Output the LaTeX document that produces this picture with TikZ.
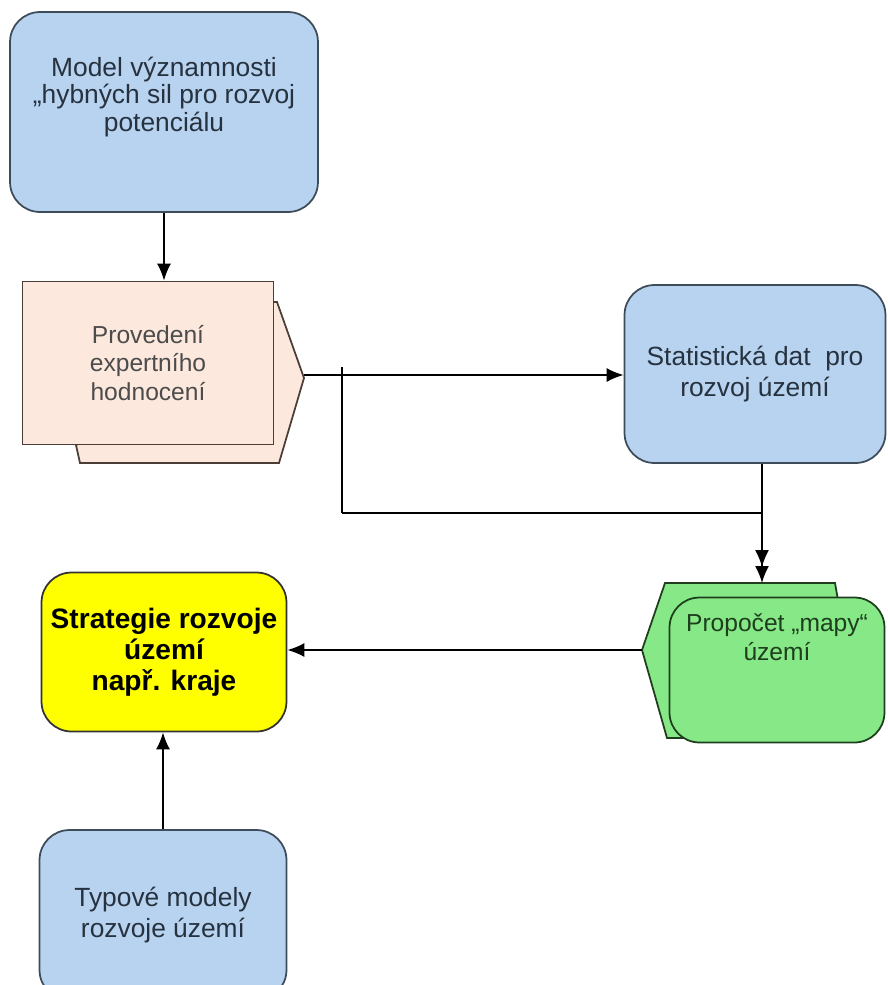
\documentclass[tikz,border=0pt]{standalone}
\usepackage{fontspec}
\setmainfont{Liberation Sans}
\usetikzlibrary{arrows.meta}

\definecolor{modra}{HTML}{B8D3EF}
\definecolor{okrajmodry}{HTML}{3E4C5A}
\definecolor{textmodry}{HTML}{26323F}
\definecolor{broskev}{HTML}{FCE8DD}
\definecolor{okrajhnedy}{HTML}{4A3E36}
\definecolor{zelena}{HTML}{86E886}
\definecolor{okrajzeleny}{HTML}{1E3E1E}
\definecolor{zluta}{HTML}{FFFF00}

\newcommand{\Radky}[2][0pt]{\begin{tabular}{@{}c@{}}#2\\[#1]\end{tabular}}

\begin{document}
\begin{tikzpicture}[x=0.02cm,y=-0.02cm]
	\tikzstyle{sipka}=[-{Latex[length=3.4mm,width=2.8mm]},line width=1pt]
	\tikzstyle{cara}=[line width=1pt]
	\tikzstyle{blok}=[draw,line width=1pt,rounded corners=0.6cm,inner sep=0pt,align=center,font=\fontsize{15}{17.5}\selectfont]
	\tikzstyle{modry}=[blok,fill=modra,draw=okrajmodry,text=textmodry]
	\tikzstyle{hnedy}=[blok,sharp corners,fill=broskev,draw=okrajhnedy,text=black!70,font=\fontsize{14}{16}\selectfont]
	\tikzstyle{zeleny}=[blok,fill=zelena,draw=okrajzeleny,text=okrajzeleny,font=\fontsize{14}{17}\selectfont]
	\tikzstyle{zluty}=[blok,fill=zluta,draw=black!80,font=\fontsize{16}{17.5}\selectfont\bfseries]
	
	\useasboundingbox (0,0) rectangle (887,985);
	\clip (0,0) rectangle (887,985);
	
	% zadni tvary
	\draw[cara,fill=broskev,draw=okrajhnedy] (76,445) -- (80,463) -- (279,463) -- (304,378) -- (277,302) -- (250,302) -- (250,435) -- (100,435) -- cycle;
	\draw[cara,fill=zelena,draw=okrajzeleny] (665,583) -- (835,583) -- (838,600) -- (700,640) -- (690,738) -- (667,738) -- (642,650) -- cycle;
	
	% bloky
	\node[modry,minimum width=6.16cm,minimum height=4cm,font=\fontsize{15}{15.5}\selectfont] (model) at (164,112) {\Radky[0.56cm]{Model významnosti\\„hybných sil pro rozvoj\\potenciálu}};
	\node[hnedy,minimum width=5.02cm,minimum height=3.26cm] (proved) at (148,363) {Provedení\\expertního\\hodnocení};
	\node[modry,minimum width=5.22cm,minimum height=3.56cm] (stat) at (755,374) {Statistická dat\ \ pro\\rozvoj území};
	\node[zeleny,minimum width=4.3cm,minimum height=2.9cm] (mapa) at (777,670) {\Radky[1.2cm]{Propočet „mapy“\\území}};
	\node[zluty,minimum width=4.9cm,minimum height=3.18cm] (strat) at (164,652) {Strategie rozvoje\\území\\např. kraje};
	\node[modry,minimum width=4.94cm,minimum height=3.4cm] (typ) at (163,915) {Typové modely\\rozvoje území};
	
	\coordinate (hrotP) at (304,375);
	\coordinate (odbocka) at (342,367);
	\coordinate (ohyb) at (342,513);
	\coordinate (hrotM) at (642,650);
	\coordinate (mapaVrch) at (762,583);
	
	% spoje
	\draw[sipka] (model.south) -- (model.south |- proved.north);
	\draw[sipka] (hrotP) -- (stat.west |- hrotP);
	\draw[cara] (odbocka) -- (ohyb);
	\draw[sipka,shorten >=0.32cm] (ohyb) -| (mapaVrch);
	\draw[sipka] (stat.south -| mapaVrch) -- (mapaVrch);
	\draw[sipka] (hrotM) -- (strat.east |- hrotM);
	\draw[sipka] (typ.north) -- (typ.north |- strat.south);
\end{tikzpicture}
\end{document}
